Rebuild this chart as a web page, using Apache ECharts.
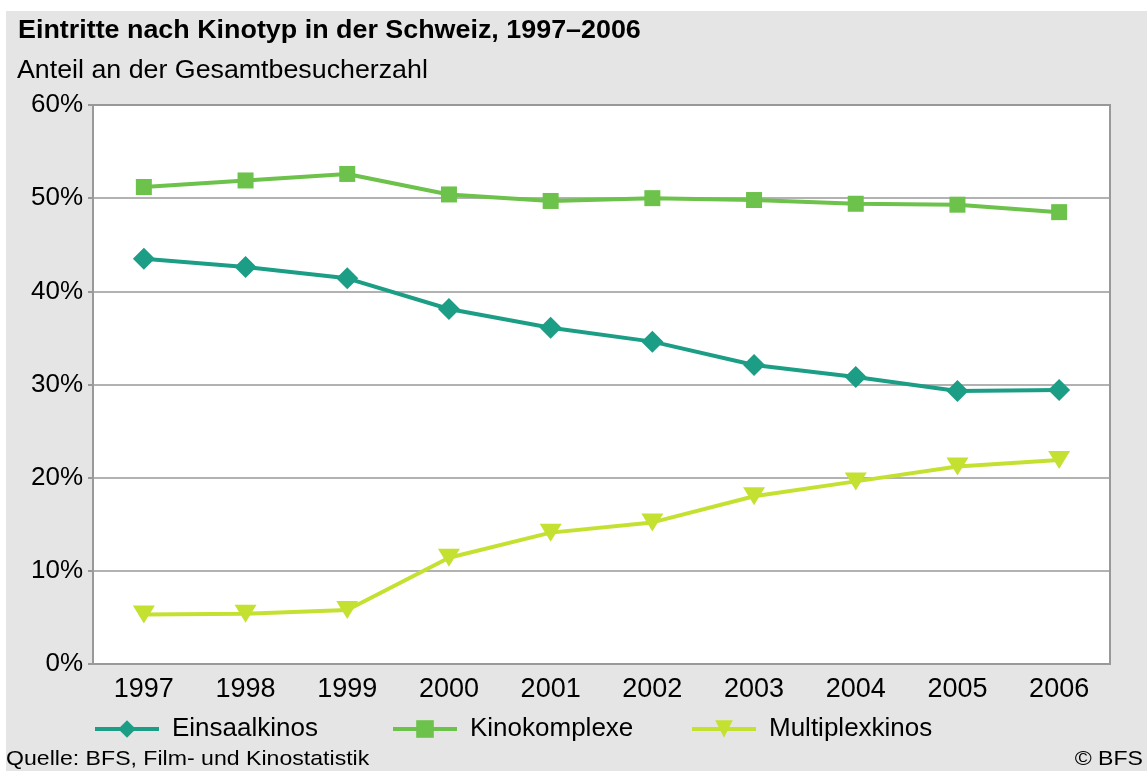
<!DOCTYPE html>
<html>
<head>
<meta charset="utf-8">
<script src="https://cdn.jsdelivr.net/npm/echarts@6/dist/echarts.min.js"></script>
<style>
	html, body {margin: 0; padding: 0; background: #fff;}
	#chart {width: 1147px; height: 771px;}
</style>
</head>
<body>
<div id="chart"></div>
<script>
	var years = ['1997', '1998', '1999', '2000', '2001', '2002', '2003', '2004', '2005', '2006'];
	var einsaal = [43.5, 42.6, 41.4, 38.1, 36.1, 34.6, 32.1, 30.8, 29.3, 29.4];
	var komplexe = [51.2, 51.9, 52.6, 50.4, 49.7, 50.0, 49.8, 49.4, 49.3, 48.5];
	var multiplex = [5.3, 5.4, 5.8, 11.4, 14.1, 15.2, 18.0, 19.6, 21.2, 21.9];
	var yTicks = [0, 10, 20, 30, 40, 50, 60];

	var font = '"Liberation Sans", Arial, sans-serif';
	var colEinsaal = '#1b9e85';
	var colKomplexe = '#6cc24a';
	var colMultiplex = '#c4e132';

	var chart = echarts.init(document.getElementById('chart'));

	function legendAt(left, name) {
		return {
			left: left,
			top: 716,
			padding: 0,
			itemWidth: 64,
			itemHeight: 22,
			itemGap: 0,
			lineStyle: {width: 4},
			data: [name],
			textStyle: {fontFamily: font, fontSize: 26, color: '#000', padding: [0, 0, 0, 8]}
		};
	}

	// slightly stretched text so the widths follow the reference
	function label(x, y, text, size, stretch, weight, align) {
		return {
			type: 'text',
			x: x,
			y: y,
			scaleX: stretch,
			style: {text: text, font: (weight || '') + ' ' + size + 'px ' + font, fill: '#000', align: align || 'left', verticalAlign: 'top'}
		};
	}

	chart.setOption({
		backgroundColor: '#fff',
		animation: false,
		graphic: [
			{type: 'rect', z: -10, shape: {x: 6, y: 11, width: 1141, height: 760}, style: {fill: '#e5e5e5'}},
			label(18, 19, 'Eintritte nach Kinotyp in der Schweiz, 1997\u20132006', 25, 1.075, 'bold'),
			label(17, 58, 'Anteil an der Gesamtbesucherzahl', 26, 1.03),
			label(6, 749, 'Quelle: BFS, Film- und Kinostatistik', 21, 1.1),
			label(1143, 749, '\u00a9 BFS', 21, 1.1, '', 'right')
		],
		grid: {
			left: 93,
			top: 105,
			width: 1017,
			height: 559,
			show: true,
			backgroundColor: '#fff',
			borderColor: '#999',
			borderWidth: 2
		},
		legend: [
			legendAt(93, 'Einsaalkinos'),
			legendAt(391, 'Kinokomplexe'),
			legendAt(690, 'Multiplexkinos')
		],
		xAxis: {
			type: 'category',
			data: years,
			boundaryGap: true,
			axisLine: {lineStyle: {color: '#999', width: 2}},
			axisTick: {show: false},
			axisLabel: {fontFamily: font, fontSize: 27, color: '#000', margin: 12}
		},
		yAxis: {
			type: 'value',
			min: yTicks[0],
			max: yTicks[yTicks.length - 1],
			interval: 10,
			axisLine: {show: true, lineStyle: {color: '#999', width: 2}},
			axisTick: {show: true, length: 5, lineStyle: {color: '#999', width: 2}},
			splitLine: {lineStyle: {color: '#999', width: 1.5}},
			axisLabel: {fontFamily: font, fontSize: 26, color: '#000', margin: 10, formatter: '{value}%'}
		},
		series: [
			{
				name: 'Einsaalkinos',
				type: 'line',
				data: einsaal,
				symbol: 'diamond',
				symbolSize: 22,
				lineStyle: {color: colEinsaal, width: 4},
				itemStyle: {color: colEinsaal}
			},
			{
				name: 'Kinokomplexe',
				type: 'line',
				data: komplexe,
				symbol: 'rect',
				symbolSize: 16,
				lineStyle: {color: colKomplexe, width: 4},
				itemStyle: {color: colKomplexe}
			},
			{
				name: 'Multiplexkinos',
				type: 'line',
				data: multiplex,
				symbol: 'triangle',
				symbolRotate: 180,
				symbolSize: [22, 18],
				lineStyle: {color: colMultiplex, width: 4},
				itemStyle: {color: colMultiplex}
			}
		]
	});
</script>
</body>
</html>
